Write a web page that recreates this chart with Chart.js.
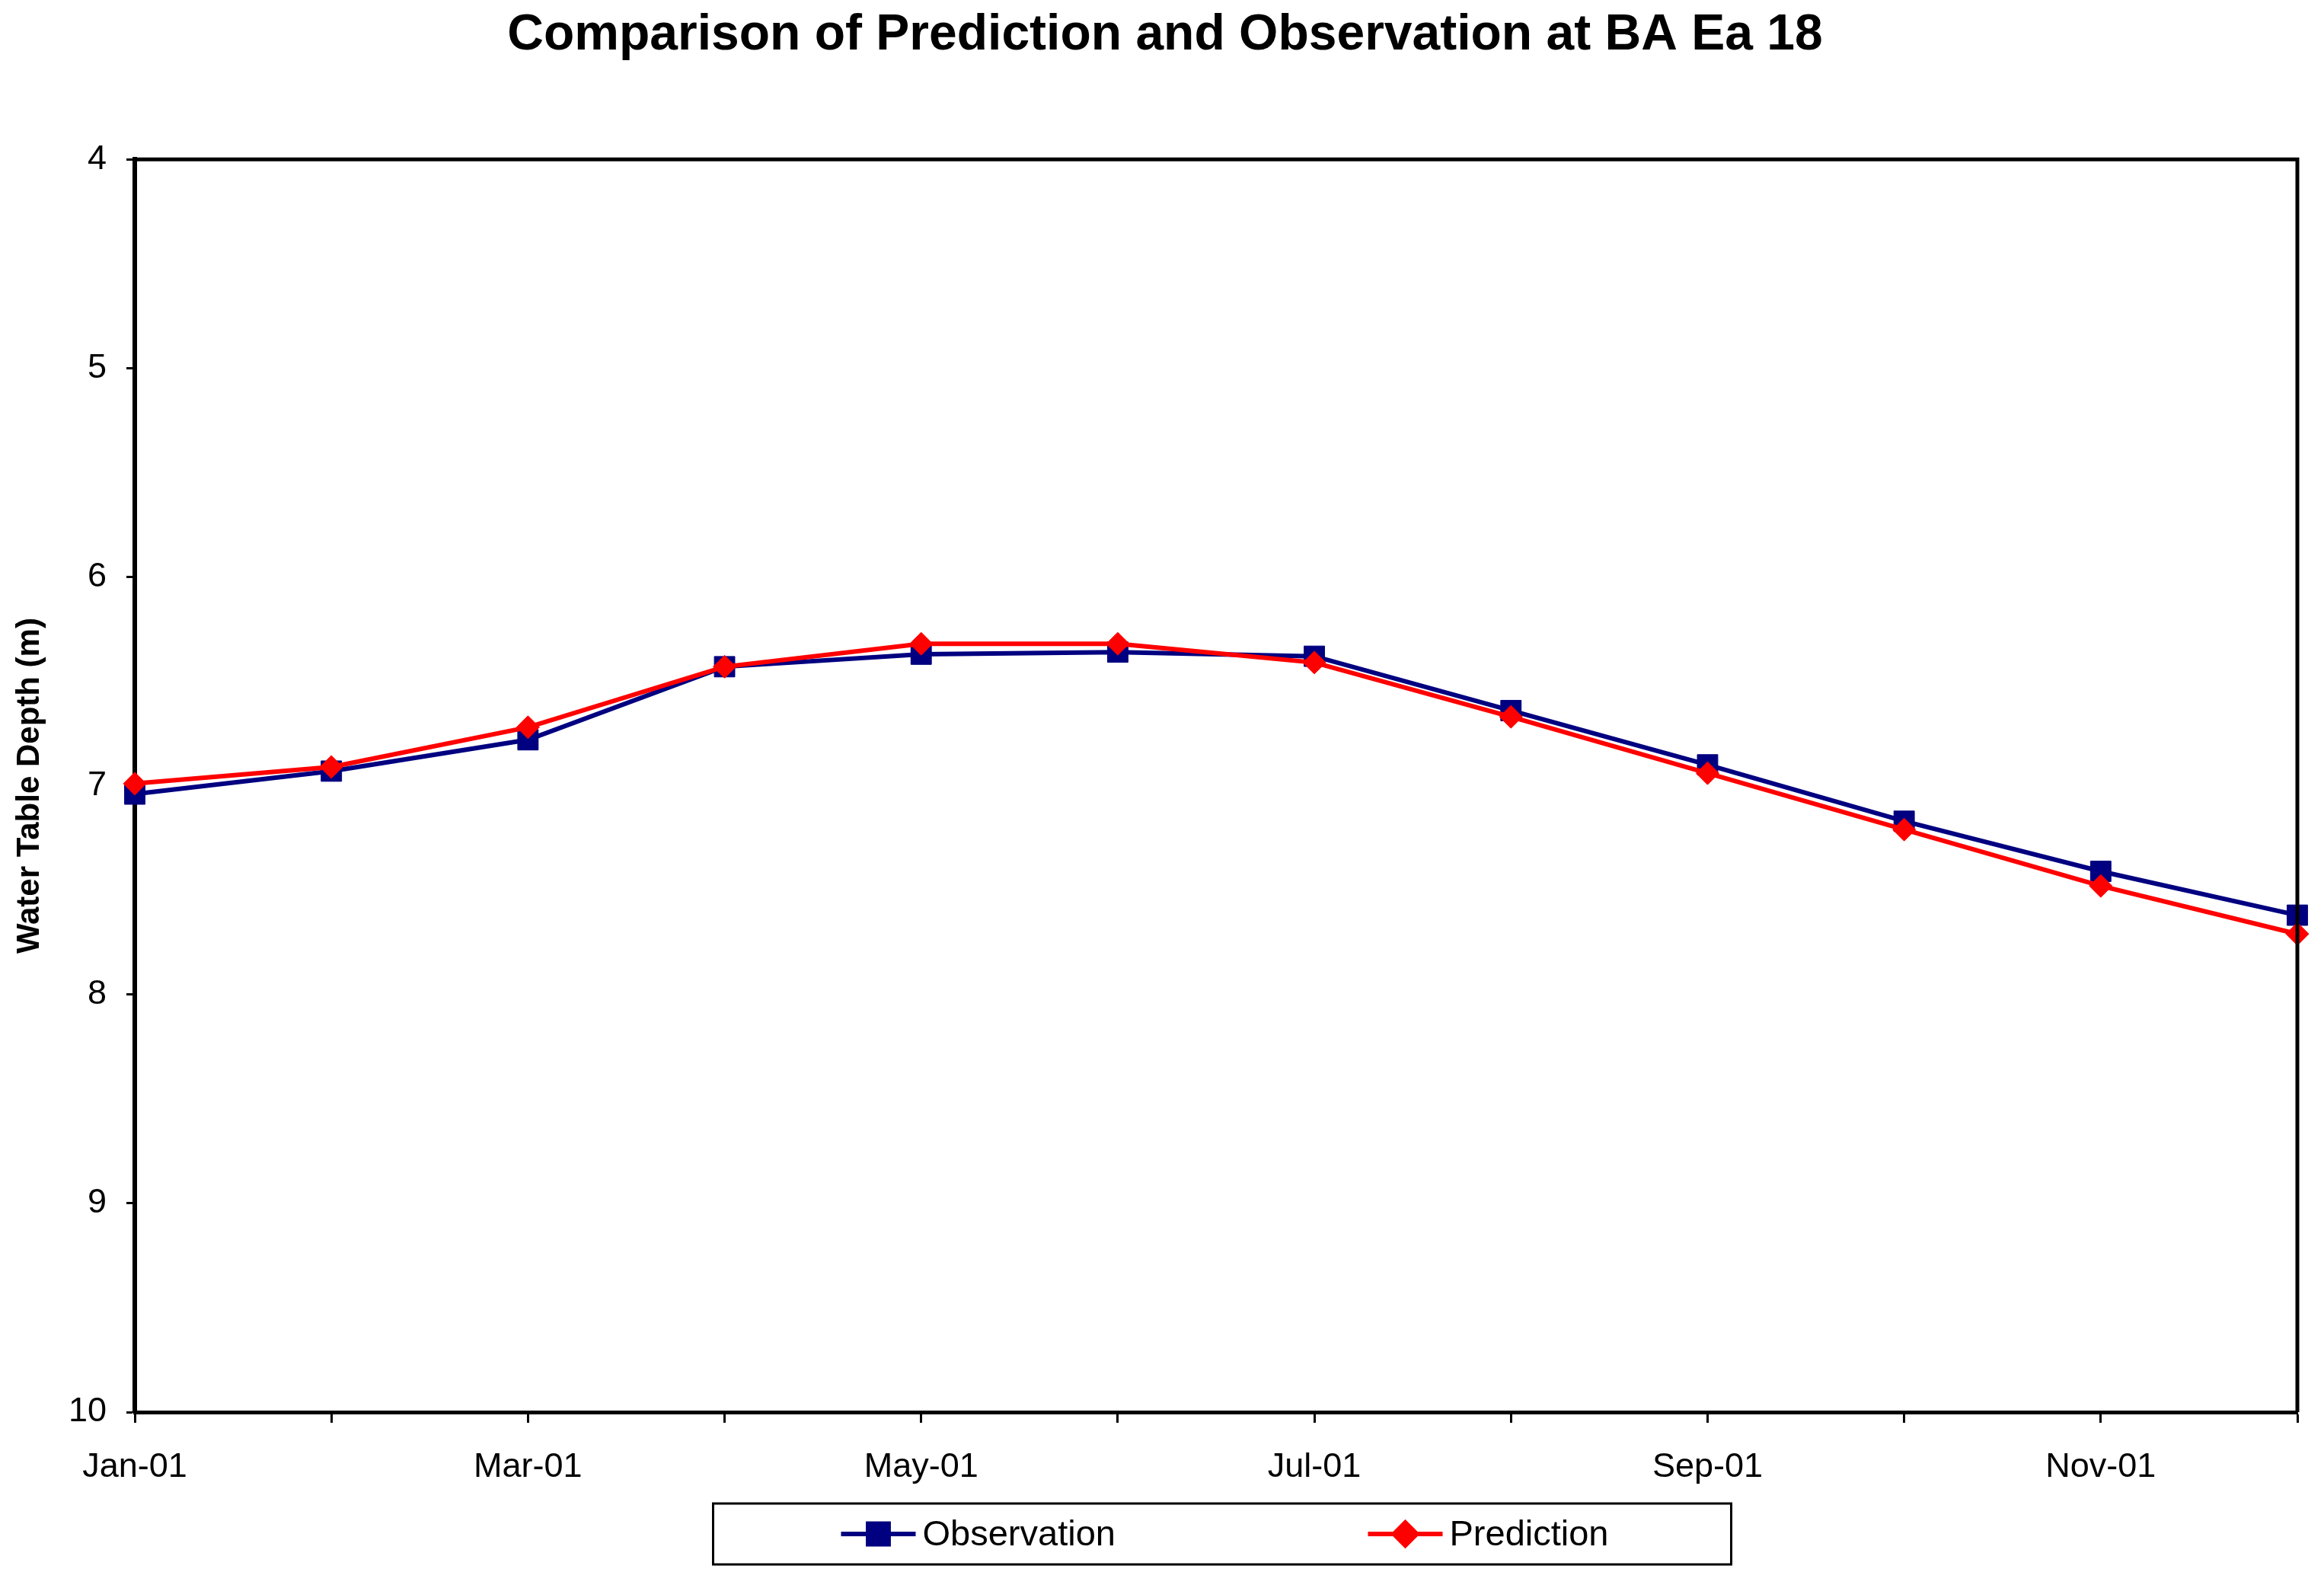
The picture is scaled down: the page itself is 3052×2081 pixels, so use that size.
<!DOCTYPE html>
<html>
<head>
<meta charset="utf-8">
<title>Comparison of Prediction and Observation at BA Ea 18</title>
<script src="https://cdn.jsdelivr.net/npm/chart.js@4/dist/chart.umd.min.js"></script>
<style>
  html, body { margin: 0; padding: 0; background: #fff; }
  canvas { display: block; }
</style>
</head>
<body>
<canvas id="chartBAEa18" width="3052" height="2081"></canvas>
<script>
const months = ['Jan-01', 'Feb-01', 'Mar-01', 'Apr-01', 'May-01', 'Jun-01',
                'Jul-01', 'Aug-01', 'Sep-01', 'Oct-01', 'Nov-01', 'Dec-01'];
const xTickLabels = ['Jan-01', 'Mar-01', 'May-01', 'Jul-01', 'Sep-01', 'Nov-01'];
const observation = [7.04, 6.93, 6.78, 6.43, 6.37, 6.36, 6.38, 6.64, 6.90, 7.17, 7.41, 7.62];
const prediction  = [6.99, 6.91, 6.72, 6.43, 6.32, 6.32, 6.41, 6.67, 6.94, 7.21, 7.48, 7.71];
const yMin = 4, yMax = 10, yStep = 1;

const FONT = '"Liberation Sans", Arial, sans-serif';
const NAVY = '#000080';
const RED = '#ff0000';

// marco superior/derecho del área de trazado (estilo Excel)
const frame = {
  id: 'frame',
  afterDatasetsDraw(chart) {
    const { ctx, chartArea: a } = chart;
    ctx.save();
    ctx.strokeStyle = '#000';
    ctx.lineWidth = 5;
    ctx.beginPath();
    ctx.moveTo(a.left, a.top);
    ctx.lineTo(a.right, a.top);
    ctx.lineTo(a.right, a.bottom);
    ctx.stroke();
    ctx.restore();
  }
};

// leyenda con caja, línea + marcador
const boxLegend = {
  id: 'boxLegend',
  afterDraw(chart) {
    const { ctx, chartArea: a } = chart;
    const cx = (a.left + a.right) / 2 + 8;
    const w = 1337, h = 80, top = 1974;
    const left = cx - w / 2;
    const cy = top + h / 2;
    ctx.save();
    ctx.fillStyle = '#fff';
    ctx.fillRect(left, top, w, h);
    ctx.strokeStyle = '#000';
    ctx.lineWidth = 3;
    ctx.strokeRect(left, top, w, h);
    ctx.font = '47px ' + FONT;
    ctx.textBaseline = 'middle';
    ctx.textAlign = 'left';
    chart.data.datasets.slice().sort((p, q) => p.legendIdx - q.legendIdx).forEach((ds, i) => {
      const x0 = left + 168 + i * 692;
      ctx.strokeStyle = ds.borderColor;
      ctx.lineWidth = 6;
      ctx.beginPath();
      ctx.moveTo(x0, cy);
      ctx.lineTo(x0 + 98, cy);
      ctx.stroke();
      ctx.fillStyle = ds.pointBackgroundColor;
      ctx.strokeStyle = ds.pointBorderColor;
      Chart.helpers.drawPoint(ctx, {
        pointStyle: ds.pointStyle, radius: ds.pointRadius, borderWidth: 1, rotation: 0
      }, x0 + 49, cy);
      ctx.fillStyle = '#000';
      ctx.fillText(ds.label, x0 + 107, cy + 2);
    });
    ctx.restore();
  }
};

new Chart(document.getElementById('chartBAEa18').getContext('2d'), {
  type: 'line',
  data: {
    labels: months,
    datasets: [
      {
        label: 'Prediction', legendIdx: 1, order: 0, data: prediction,
        borderColor: RED, borderWidth: 6, pointStyle: 'rectRot', pointRadius: 15,
        pointBackgroundColor: RED, pointBorderColor: RED, pointBorderWidth: 1,
        tension: 0, clip: false
      },
      {
        label: 'Observation', legendIdx: 0, order: 1, data: observation,
        borderColor: NAVY, borderWidth: 6, pointStyle: 'rect', pointRadius: 19,
        pointBackgroundColor: NAVY, pointBorderColor: NAVY, pointBorderWidth: 1,
        tension: 0, clip: false
      }
    ]
  },
  options: {
    responsive: false,
    devicePixelRatio: 1,
    animation: false,
    layout: { padding: { left: 43, right: 35, top: 0, bottom: 0 } },
    plugins: {
      legend: { display: false },
      tooltip: { enabled: false },
      title: {
        display: true,
        text: 'Comparison of Prediction and Observation at BA Ea 18',
        color: '#000',
        font: { family: FONT, size: 66, weight: 'bold', lineHeight: 1.2 },
        padding: { top: 7, bottom: 123 }
      }
    },
    scales: {
      x: {
        type: 'category',
        offset: false,
        afterFit(s) { s.height = 227; },
        border: { display: true, color: '#000', width: 5 },
        grid: { drawOnChartArea: false, drawTicks: true, tickLength: 14, tickColor: '#000', tickWidth: 3 },
        ticks: {
          autoSkip: false, maxRotation: 0, color: '#000', padding: 32,
          font: { family: FONT, size: 45 },
          callback(v, i) {
            const lab = months[i];
            return xTickLabels.includes(lab) ? lab : '';
          }
        }
      },
      y: {
        reverse: true,
        min: yMin,
        max: yMax,
        afterFit(s) { s.width = 134; },
        border: { display: true, color: '#000', width: 6 },
        grid: { drawOnChartArea: false, drawTicks: true, tickLength: 11, tickColor: '#000', tickWidth: 3 },
        ticks: { stepSize: yStep, color: '#000', padding: 26, font: { family: FONT, size: 45 } },
        title: {
          display: true,
          text: 'Water Table Depth (m)',
          color: '#000',
          font: { family: FONT, size: 42, weight: 'bold' },
          padding: { top: -29, bottom: 0 }
        }
      }
    }
  },
  plugins: [frame, boxLegend]
});
</script>
</body>
</html>
